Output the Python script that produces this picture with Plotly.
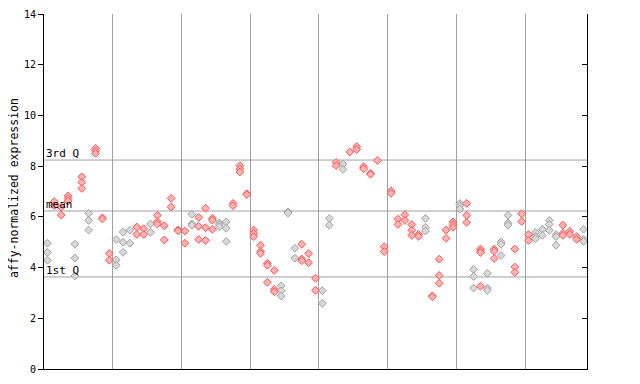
import plotly.graph_objects as go

# expression values per sample column (index 0..78)
columns = [
    [4.96, 4.60, 4.29], [6.60, 6.44], [6.38, 6.07], [6.83, 6.72, 6.62], [4.92, 4.38, 3.67],
    [7.58, 7.36, 7.12], [6.14, 5.86, 5.48], [8.70, 8.60, 8.50], [5.96, 5.92], [4.56, 4.29],
    [5.11, 4.30, 4.09], [5.40, 5.00, 4.60], [5.47, 4.96], [5.60, 5.31], [5.53, 5.31],
    [5.72, 5.39], [6.06, 5.81, 5.72], [5.65, 5.09], [6.73, 6.39], [5.48, 5.45],
    [5.44, 4.96], [6.10, 5.72, 5.67], [5.98, 5.63, 5.11], [6.34, 5.57, 5.07], [5.94, 5.87, 5.51],
    [5.76, 5.69, 5.61], [5.80, 5.55, 5.03], [6.53, 6.44], [8.02, 7.89, 7.77], [6.91, 6.88],
    [5.48, 5.35, 5.22], [4.88, 4.63, 4.56], [4.17, 4.09, 3.42], [3.89, 3.14, 3.05], [3.28, 3.08, 2.88],
    [6.20, 6.15], [4.76, 4.37], [4.92, 4.34, 4.27], [4.56, 4.19], [3.58, 3.10],
    [3.09, 2.59], [5.93, 5.67], [8.15, 8.02], [8.08, 7.87], [8.56],
    [8.77, 8.66], [7.98, 7.89], [7.71, 7.68], [8.22], [4.82, 4.63],
    [7.02, 6.93], [5.91, 5.70], [6.08, 5.86], [5.70, 5.47, 5.27], [5.31, 5.23],
    [5.94, 5.59, 5.44], [2.88, 2.85], [4.33, 3.69, 3.38], [5.48, 5.15], [5.80, 5.70, 5.59],
    [6.53, 6.44, 6.31], [6.53, 6.06, 5.78], [3.93, 3.65, 3.19], [4.73, 4.65, 4.59, 3.26], [3.77, 3.19, 3.10],
    [4.73, 4.65, 4.36], [5.01, 4.92, 4.48], [6.06, 5.75, 5.67], [4.73, 4.02, 3.81], [6.12, 5.82],
    [5.30, 5.07], [5.39, 5.22, 5.14], [5.51, 5.27], [5.86, 5.70, 5.47], [5.30, 5.22, 4.88],
    [5.67, 5.35, 5.27], [5.43, 5.31], [5.22, 5.11], [5.51, 5.11, 5.03],
]
# series colour per column: "r" = red, "g" = gray
column_colors = list(
    "grrrgrgrrr"
    "gggrrgrrrr"
    "rgrrrggrrr"
    "rrrrgggrrr"
    "ggrgrrrrrr"
    "rrrrrgrrrr"
    "grgrgrggrr"
    "rggggrrrg"
)
group_bounds = [9.5, 19.5, 29.5, 39.5, 49.5, 59.5, 69.5]
q1_value, mean_value, q3_value = 3.63, 6.23, 8.24
y_ticks = [0, 2, 4, 6, 8, 10, 12, 14]

gx, gy, rx, ry = [], [], [], []
for i, (vals, c) in enumerate(zip(columns, column_colors)):
    for v in vals:
        if c == "g":
            gx.append(i); gy.append(v)
        else:
            rx.append(i); ry.append(v)

fig = go.Figure()
fig.add_trace(go.Scatter(x=gx, y=gy, mode="markers",
                         marker=dict(symbol="diamond", size=6, color="#d8d8d8",
                                     line=dict(color="#a0a0a0", width=1)),
                         showlegend=False, hoverinfo="y"))
fig.add_trace(go.Scatter(x=rx, y=ry, mode="markers",
                         marker=dict(symbol="diamond", size=6, color="#ffb4b4",
                                     line=dict(color="#ff5050", width=1)),
                         showlegend=False, hoverinfo="y"))
# invisible trace to activate right axis
fig.add_trace(go.Scatter(x=[None], y=[None], yaxis="y2", showlegend=False))

for q in (q1_value, mean_value, q3_value):
    fig.add_shape(type="line", xref="paper", x0=0, x1=1, yref="y", y0=q, y1=q,
                  line=dict(color="#a0a0a0", width=1), layer="below")

mono = "DejaVu Sans Mono"
for txt, q in (("1st Q", q1_value), ("mean", mean_value), ("3rd Q", q3_value)):
    fig.add_annotation(text=txt, xref="paper", x=0.0, xanchor="left", yref="y", y=q,
                       yanchor="bottom", yshift=-2, showarrow=False,
                       font=dict(family=mono, size=11, color="black"))

fig.add_annotation(text="affy-normalized expression", xref="paper", yref="paper",
                   x=-0.055, y=0.51, xanchor="center", yanchor="middle", textangle=-90,
                   showarrow=False, font=dict(family=mono, size=11.5, color="black"))

# page body has an 8px default offset; margins compensate so the plot lands at
# x 44..587, y 14..369 in the window
fig.update_layout(
    width=640, height=384,
    margin=dict(l=36, r=61, t=6, b=23, autoexpand=False),
    paper_bgcolor="white", plot_bgcolor="white",
    xaxis=dict(range=[-0.5, 78.5], tickvals=group_bounds, showticklabels=False,
               ticks="", showgrid=True, gridcolor="#a0a0a0", gridwidth=1,
               showline=True, linecolor="black", linewidth=1, zeroline=False,
               automargin=False),
    yaxis=dict(range=[0, 14], tickvals=y_ticks, ticks="outside", ticklen=5,
               tickcolor="black", showgrid=False, zeroline=False,
               showline=True, linecolor="black", linewidth=1, automargin=False,
               tickfont=dict(family=mono, size=10, color="black")),
    yaxis2=dict(range=[0, 14], tickvals=y_ticks, overlaying="y", side="right",
                ticks="inside", ticklen=5, tickcolor="black", showticklabels=False,
                showgrid=False, zeroline=False, showline=True, linecolor="black", linewidth=1,
                automargin=False),
)

fig.write_html("out.html")
